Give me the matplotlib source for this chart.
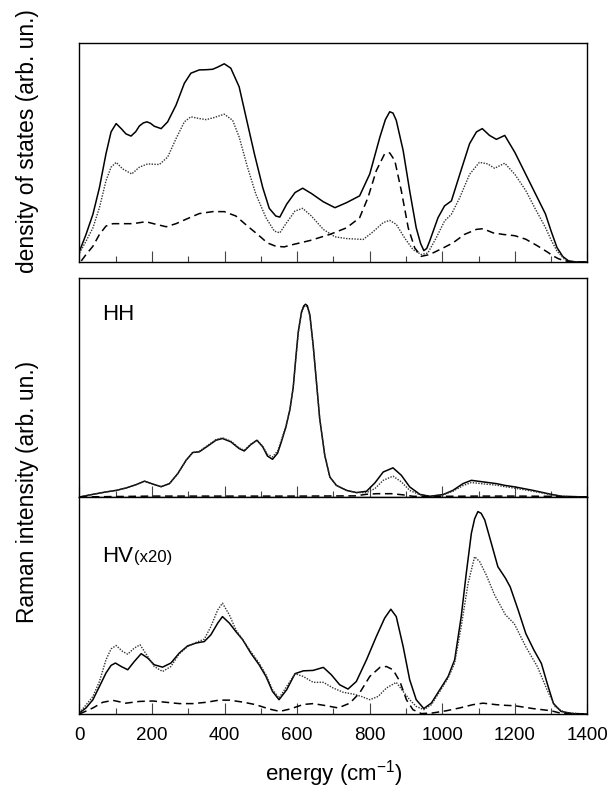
import matplotlib
matplotlib.use("Agg")
import matplotlib.pyplot as plt
from matplotlib.ticker import MultipleLocator

plt.rcParams['font.family'] = ['Liberation Sans', 'DejaVu Sans']
plt.rcParams['mathtext.fontset'] = 'custom'
plt.rcParams['mathtext.rm'] = 'Liberation Sans'

# ---------------- data (energy in cm^-1, intensities in arb. units) ----------------
# Density of states panel
dos_total_x = [0, 18, 37, 55, 73, 87, 101, 115, 128, 142, 155, 165, 176, 186, 196, 206, 225, 243, 266, 289,
               307, 330, 350, 367, 381, 399, 417, 440, 463, 482, 505, 523, 541, 552, 571, 594, 615, 639, 672,
               704, 736, 772, 800, 828, 843, 855, 864, 873, 892, 910, 928, 940, 949, 957, 965, 988, 1006, 1025,
               1048, 1075, 1094, 1110, 1130, 1149, 1172, 1200, 1230, 1257, 1284, 1300, 1316, 1332, 1348, 1370,
               1400]
dos_total_y = [0.049, 0.126, 0.218, 0.34, 0.494, 0.594, 0.632, 0.609, 0.585, 0.575, 0.595, 0.621, 0.635, 0.64,
               0.633, 0.62, 0.609, 0.64, 0.716, 0.816, 0.862, 0.877, 0.878, 0.88, 0.89, 0.905, 0.885, 0.80,
               0.632, 0.494, 0.34, 0.245, 0.21, 0.205, 0.264, 0.317, 0.337, 0.313, 0.275, 0.248, 0.271, 0.302,
               0.402, 0.571, 0.65, 0.686, 0.68, 0.647, 0.509, 0.325, 0.156, 0.085, 0.052, 0.062, 0.095, 0.202,
               0.256, 0.279, 0.40, 0.54, 0.594, 0.609, 0.578, 0.56, 0.578, 0.50, 0.40, 0.31, 0.22, 0.14, 0.066,
               0.025, 0.005, 0.0, 0.0]

dos_dot_x = [0, 18, 37, 55, 73, 87, 101, 119, 144, 165, 188, 220, 243, 266, 289, 307, 330, 349, 372, 399, 422,
             440, 463, 486, 514, 537, 552, 571, 594, 615, 639, 672, 704, 736, 782, 809, 837, 855, 873, 896, 919,
             942, 960, 983, 1006, 1025, 1048, 1075, 1102, 1125, 1144, 1172, 1200, 1230, 1257, 1284, 1300, 1316,
             1338, 1360, 1400]
dos_dot_y = [0.041, 0.095, 0.156, 0.248, 0.371, 0.433, 0.455, 0.425, 0.402, 0.433, 0.448, 0.445, 0.479, 0.563,
             0.64, 0.663, 0.655, 0.65, 0.66, 0.675, 0.647, 0.571, 0.433, 0.31, 0.202, 0.141, 0.133, 0.18, 0.233,
             0.245, 0.21, 0.149, 0.115, 0.107, 0.103, 0.138, 0.18, 0.19, 0.172, 0.11, 0.057, 0.034, 0.041, 0.11,
             0.187, 0.218, 0.294, 0.40, 0.455, 0.448, 0.428, 0.451, 0.40, 0.326, 0.24, 0.158, 0.10, 0.05, 0.01,
             0.0, 0.0]

dos_dash_x = [5, 18, 37, 55, 73, 92, 119, 147, 183, 211, 239, 266, 303, 330, 367, 399, 431, 463, 491, 518, 541,
              564, 589, 635, 690, 736, 772, 795, 818, 841, 855, 869, 887, 906, 924, 942, 965, 1002, 1029, 1061,
              1094, 1112, 1140, 1167, 1200, 1230, 1262, 1290, 1305, 1320, 1338, 1360, 1400]
dos_dash_y = [0.005, 0.034, 0.072, 0.126, 0.164, 0.175, 0.175, 0.175, 0.184, 0.172, 0.161, 0.175, 0.202, 0.221,
              0.23, 0.23, 0.21, 0.164, 0.126, 0.087, 0.072, 0.069, 0.08, 0.098, 0.126, 0.156, 0.202, 0.294,
              0.417, 0.494, 0.498, 0.463, 0.325, 0.156, 0.064, 0.026, 0.034, 0.064, 0.087, 0.126, 0.149, 0.152,
              0.133, 0.126, 0.12, 0.104, 0.074, 0.045, 0.028, 0.015, 0.005, 0.0, 0.0]

# HH Raman panel
hh_x = [0, 37, 73, 101, 128, 156, 179, 202, 225, 248, 271, 294, 312, 330, 353, 376, 394, 417, 440, 454, 472, 489,
        505, 518, 532, 546, 556, 569, 580, 589, 597, 603, 612, 618, 623, 628, 635, 644, 653, 662, 676, 690, 708,
        736, 763, 791, 814, 837, 864, 887, 910, 938, 965, 1002, 1029, 1057, 1080, 1112, 1149, 1172, 1200, 1250,
        1300, 1330, 1400]
hh_solid_y = [0.0, 0.012, 0.023, 0.03, 0.041, 0.056, 0.072, 0.059, 0.047, 0.061, 0.107, 0.168, 0.203, 0.206,
              0.232, 0.259, 0.267, 0.252, 0.221, 0.21, 0.239, 0.259, 0.229, 0.187, 0.172, 0.2, 0.25, 0.32, 0.4,
              0.5, 0.65, 0.755, 0.846, 0.872, 0.88, 0.873, 0.831, 0.693, 0.526, 0.358, 0.19, 0.091, 0.053, 0.03,
              0.02, 0.026, 0.064, 0.114, 0.133, 0.099, 0.046, 0.012, 0.003, 0.011, 0.03, 0.061, 0.076, 0.069,
              0.061, 0.053, 0.046, 0.03, 0.012, 0.003, 0.0]
hh_dot_y = [0.0, 0.012, 0.023, 0.03, 0.041, 0.056, 0.072, 0.059, 0.047, 0.061, 0.107, 0.168, 0.203, 0.208,
            0.235, 0.262, 0.27, 0.255, 0.224, 0.213, 0.241, 0.259, 0.232, 0.195, 0.183, 0.21, 0.258, 0.325, 0.4,
            0.5, 0.645, 0.75, 0.84, 0.866, 0.874, 0.867, 0.825, 0.69, 0.526, 0.358, 0.19, 0.091, 0.053, 0.03,
            0.02, 0.02, 0.038, 0.076, 0.095, 0.069, 0.03, 0.01, 0.003, 0.01, 0.026, 0.052, 0.066, 0.06, 0.054,
            0.047, 0.04, 0.026, 0.01, 0.003, 0.0]
hh_dash_x = [0, 200, 400, 600, 760, 790, 820, 860, 890, 920, 1000, 1100, 1200, 1300, 1340, 1400]
hh_dash_y = [0.0, 0.004, 0.004, 0.004, 0.005, 0.012, 0.015, 0.015, 0.01, 0.003, 0.003, 0.004, 0.004, 0.003,
             0.0, 0.0]

# HV (x20) Raman panel
hv_solid_x = [0, 18, 37, 55, 73, 87, 99, 115, 133, 151, 170, 188, 206, 229, 252, 275, 298, 321, 344, 362, 381,
              394, 413, 431, 450, 472, 495, 514, 532, 550, 571, 594, 617, 644, 672, 694, 717, 740, 763, 791, 818,
              841, 858, 873, 892, 910, 928, 949, 970, 993, 1016, 1034, 1052, 1066, 1080, 1089, 1098, 1107, 1117,
              1135, 1153, 1174, 1187, 1209, 1230, 1252, 1273, 1289, 1306, 1327, 1359, 1400]
hv_solid_y = [0.005, 0.028, 0.066, 0.127, 0.189, 0.224, 0.235, 0.219, 0.204, 0.242, 0.278, 0.258, 0.227, 0.216,
              0.235, 0.281, 0.314, 0.327, 0.334, 0.365, 0.419, 0.449, 0.419, 0.38, 0.342, 0.281, 0.227, 0.173,
              0.104, 0.066, 0.112, 0.186, 0.199, 0.201, 0.215, 0.181, 0.135, 0.115, 0.15, 0.25, 0.357, 0.442,
              0.483, 0.449, 0.311, 0.158, 0.066, 0.025, 0.051, 0.112, 0.173, 0.25, 0.449, 0.649, 0.833, 0.9,
              0.933, 0.925, 0.894, 0.787, 0.679, 0.626, 0.586, 0.479, 0.371, 0.296, 0.233, 0.141, 0.049, 0.012,
              0.002, 0.0]

hv_dot_x = [0, 37, 55, 73, 87, 101, 119, 133, 151, 167, 183, 206, 229, 252, 275, 298, 321, 344, 362, 381, 394,
            413, 431, 450, 472, 495, 514, 532, 550, 571, 594, 617, 644, 672, 699, 727, 754, 777, 800, 823, 846,
            873, 892, 910, 928, 949, 970, 993, 1016, 1034, 1052, 1071, 1089, 1103, 1121, 1144, 1174, 1198, 1230,
            1262, 1289, 1311, 1338, 1400]
hv_dot_y = [0.005, 0.081, 0.15, 0.25, 0.30, 0.316, 0.288, 0.276, 0.304, 0.319, 0.278, 0.219, 0.196, 0.219, 0.278,
            0.311, 0.33, 0.345, 0.403, 0.48, 0.511, 0.457, 0.388, 0.342, 0.288, 0.235, 0.181, 0.112, 0.074, 0.127,
            0.186, 0.173, 0.146, 0.146, 0.12, 0.10, 0.092, 0.081, 0.066, 0.081, 0.12, 0.146, 0.104, 0.066, 0.035,
            0.02, 0.043, 0.104, 0.166, 0.235, 0.403, 0.603, 0.725, 0.702, 0.641, 0.549, 0.457, 0.417, 0.31, 0.218,
            0.11, 0.034, 0.006, 0.0]

hv_dash_x = [0, 37, 64, 92, 128, 165, 202, 239, 275, 312, 349, 385, 413, 450, 486, 523, 552, 580, 617, 644, 681,
             713, 745, 772, 800, 828, 846, 864, 883, 901, 919, 942, 974, 1011, 1048, 1084, 1112, 1149, 1174, 1200,
             1250, 1300, 1330, 1400]
hv_dash_y = [0.0, 0.028, 0.054, 0.063, 0.05, 0.058, 0.06, 0.054, 0.048, 0.048, 0.054, 0.064, 0.064, 0.055, 0.043,
             0.023, 0.012, 0.023, 0.044, 0.048, 0.038, 0.028, 0.05, 0.097, 0.173, 0.215, 0.219, 0.204, 0.15, 0.066,
             0.02, 0.002, 0.005, 0.015, 0.028, 0.043, 0.05, 0.043, 0.04, 0.038, 0.025, 0.015, 0.002, 0.0]

tick_values = [0, 200, 400, 600, 800, 1000, 1200, 1400]
tick_labels = ['0', '200', '400', '600', '800', '1000', '1200', '1400']

# ---------------- figure ----------------
fig = plt.figure(figsize=(6.11, 7.93), dpi=100)
left, width = 0.1301, 0.8314
ax1 = fig.add_axes([left, 0.6696, width, 0.2762])
ax2 = fig.add_axes([left, 0.3733, width, 0.2762])
ax3 = fig.add_axes([left, 0.0996, width, 0.2736])

solid_kw = dict(color='black', lw=1.1, linestyle='-', solid_joinstyle='round')
dot_kw = dict(color='#333333', lw=1.0, linestyle=(0, (1, 1)))
dash_kw = dict(color='black', lw=1.1, linestyle=(0, (5, 3)))

ax1.plot(dos_total_x, dos_total_y, **solid_kw)
ax1.plot(dos_dot_x, dos_dot_y, **dot_kw)
ax1.plot(dos_dash_x, dos_dash_y, **dash_kw)

ax2.plot(hh_x, hh_solid_y, **solid_kw)
ax2.plot(hh_x, hh_dot_y, **dot_kw)
ax2.plot(hh_dash_x, hh_dash_y, **dash_kw)

ax3.plot(hv_solid_x, hv_solid_y, **solid_kw)
ax3.plot(hv_dot_x, hv_dot_y, **dot_kw)
ax3.plot(hv_dash_x, hv_dash_y, **dash_kw)

for ax in (ax1, ax2, ax3):
    ax.set_xlim(0, 1400)
    ax.set_ylim(0, 1)
    ax.set_yticks([])
    ax.xaxis.set_major_locator(MultipleLocator(200))
    ax.xaxis.set_minor_locator(MultipleLocator(100))
    ax.tick_params(axis='x', which='major', direction='in', length=8, width=0.8, color='#444444',
                   top=False, bottom=True, labelsize=13.5, pad=9)
    ax.tick_params(axis='x', which='minor', direction='in', length=4, width=0.8, color='#444444',
                   top=False, bottom=True)
    for sp in ax.spines.values():
        sp.set_linewidth(1.0)

ax1.tick_params(axis='x', labelbottom=False)
ax2.tick_params(axis='x', labelbottom=False)
ax3.set_xticks(tick_values)
ax3.set_xticklabels(tick_labels)

ax2.text(0.044, 0.808, 'HH', transform=ax2.transAxes, fontsize=16, ha='left', va='baseline')
t_hv = ax3.text(0.044, 0.70, 'HV', transform=ax3.transAxes, fontsize=16, ha='left', va='baseline')
fig.canvas.draw()
bb = t_hv.get_window_extent()
x_end = ax3.transAxes.inverted().transform((bb.x1, bb.y0))[0]
ax3.text(x_end + 0.002, 0.70, '(x20)', transform=ax3.transAxes, fontsize=12, ha='left', va='baseline')

fig.text(0.0442, 0.8222, 'density of states (arb. un.)', rotation=90, ha='center', va='center', fontsize=16.4)
fig.text(0.0442, 0.3796, 'Raman intensity (arb. un.)', rotation=90, ha='center', va='center', fontsize=16.4)
fig.text(0.5459, 0.005, r'energy (cm$^{\mathregular{-1}}$)', ha='center', va='bottom', fontsize=16)

fig.savefig('out.png', dpi=100)
